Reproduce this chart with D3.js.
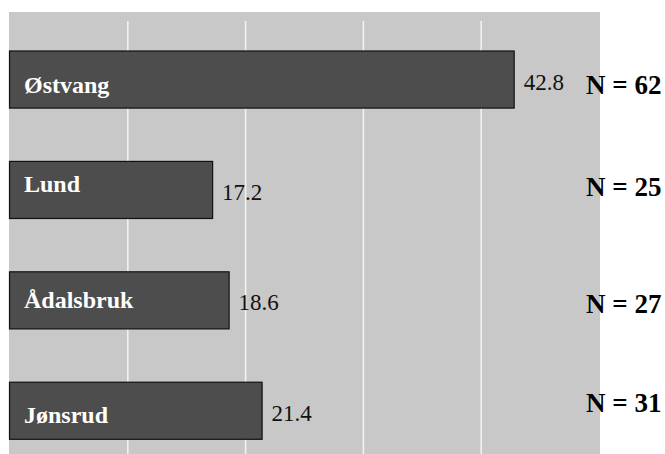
<!DOCTYPE html>
<html>
<head>
<meta charset="utf-8">
<script src="https://cdn.jsdelivr.net/npm/d3@7/dist/d3.min.js"></script>
<style>
  html, body { margin: 0; padding: 0; background: #fff; }
  svg { display: block; }
</style>
</head>
<body>
<script>
// Sites, mean scores and sample sizes
const sites = ["Østvang", "Lund", "Ådalsbruk", "Jønsrud"];
const means = [42.8, 17.2, 18.6, 21.4];
const sampleSizes = [62, 25, 27, 31];
const xTicks = [10, 20, 30, 40];

// Small per-row baseline nudges for the site and N labels
const siteLabelDy = [42, 31, 36, 41];
const nLabelDy = [43, 35, 41, 30];

const W = 665, H = 454;
const panel = { left: 10, top: 12, right: 600, bottom: 454 };
const serif = "'Liberation Serif', Tinos, 'Times New Roman', Times, 'DejaVu Serif', serif";

const rows = sites.map((s, i) => ({ site: s, mean: means[i], n: sampleSizes[i], i }));

const svg = d3.select("body").append("svg")
  .attr("width", W).attr("height", H)
  .style("font-family", serif);

const x = d3.scaleLinear().domain([0, 50]).range([panel.left, panel.right - 1]);

const y = d3.scaleBand()
  .domain(sites)
  .range([51, 439.3])
  .paddingInner(0.483)
  .paddingOuter(0);

// Grey plotting panel
svg.append("rect")
  .attr("x", panel.left - 1).attr("y", panel.top)
  .attr("width", panel.right - panel.left + 1)
  .attr("height", panel.bottom - panel.top)
  .attr("fill", "#c8c8c8");

// Vertical white grid lines
svg.append("g").selectAll("line")
  .data(xTicks)
  .join("line")
  .attr("x1", d => x(d)).attr("x2", d => x(d))
  .attr("y1", 21).attr("y2", H)
  .attr("stroke", "#f2f2f2")
  .attr("stroke-width", 1.6);

// Bars
svg.append("g").selectAll("rect")
  .data(rows)
  .join("rect")
  .attr("x", x(0) - 0.5)
  .attr("y", d => y(d.site))
  .attr("width", d => x(d.mean) - x(0) + 0.5)
  .attr("height", y.bandwidth())
  .attr("fill", "#4d4d4d")
  .attr("stroke", "#111")
  .attr("stroke-width", 1.2);

// Site names inside the bars
svg.append("g").selectAll("text")
  .data(rows)
  .join("text")
  .attr("font-family", serif)
  .attr("x", 24)
  .attr("y", d => y(d.site) + siteLabelDy[d.i])
  .attr("fill", "#fff")
  .attr("font-weight", "bold")
  .attr("font-size", 24)
  .text(d => d.site);

// Mean values next to the bars
svg.append("g").selectAll("text")
  .data(rows)
  .join("text")
  .attr("font-family", serif)
  .attr("x", d => x(d.mean) + 9.5)
  .attr("y", d => y(d.site) + 38.5)
  .attr("fill", "#111")
  .attr("font-size", 23)
  .text(d => d.mean.toFixed(1));

// Sample sizes at the right
svg.append("g").selectAll("text")
  .data(rows)
  .join("text")
  .attr("font-family", serif)
  .attr("x", 586)
  .attr("y", d => y(d.site) + nLabelDy[d.i])
  .attr("fill", "#000")
  .attr("font-weight", "bold")
  .attr("font-size", 27)
  .text(d => "N = " + d.n);
</script>
</body>
</html>
